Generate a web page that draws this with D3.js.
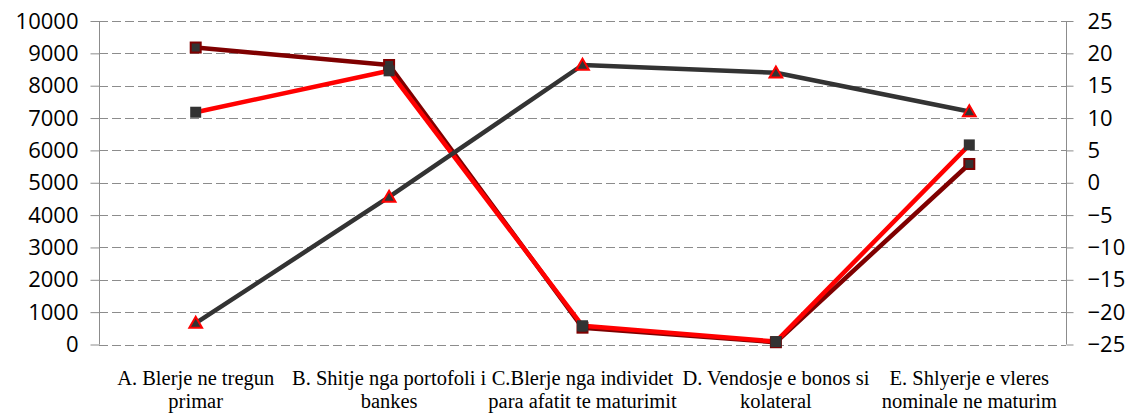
<!DOCTYPE html>
<html><head><meta charset="utf-8">
<script src="https://cdn.jsdelivr.net/npm/d3@7"></script>
<style>body{margin:0;background:#fff}svg{display:block}</style>
</head><body><svg id="c" width="1125" height="414"></svg>
<script>
const categories = ["A. Blerje ne tregun primar","B. Shitje nga portofoli i bankes","C.Blerje nga individet para afatit te maturimit","D. Vendosje e bonos si kolateral","E. Shlyerje e vleres nominale ne maturim"];
const categoryLines = [["A. Blerje ne tregun","primar"],["B. Shitje nga portofoli i","bankes"],["C.Blerje nga individet","para afatit te maturimit"],["D. Vendosje e bonos si","kolateral"],["E. Shlyerje e vleres","nominale ne maturim"]];
const seriesDarkRed = [9180, 8640, 520, 70, 5580];
const seriesRed = [7180, 8460, 580, 90, 6170];
const seriesGray = [-21.7, -2.2, 18.2, 17.0, 11.0];
const leftTicks = [0,1000,2000,3000,4000,5000,6000,7000,8000,9000,10000];
const rightTicks = [-25,-20,-15,-10,-5,0,5,10,15,20,25];

const svg = d3.select("#c");
const L = 99, R = 1066, T = 21, B = 344.5;
const x = d3.scaleBand().domain(categories).range([L, R]);
const yL = d3.scaleLinear().domain([0, 10000]).range([B, T]);
const yR = d3.scaleLinear().domain([-25, 25]).range([B, T]);
const cx = d => x(d) + x.bandwidth()/2;

// gridlines
svg.append("g").selectAll("line").data(leftTicks).join("line")
  .attr("x1", L).attr("x2", R).attr("y1", d => Math.round(yL(d))+0.5).attr("y2", d => Math.round(yL(d))+0.5)
  .attr("stroke", "#8c8c8c").attr("stroke-width", 1).attr("stroke-dasharray", "9,4");

// left axis
const axL = svg.append("g").attr("transform", `translate(${L+0.5},0)`)
  .call(d3.axisLeft(yL).tickValues(leftTicks).tickSize(9).tickPadding(12).tickFormat(d3.format("d")));
axL.attr("font-family", "Open Sans").attr("font-size", 22);
axL.select(".domain").attr("stroke", "#8c8c8c").attr("d", `M0,${T}V${B}`);
axL.selectAll(".tick line").attr("stroke", "#8c8c8c");
axL.selectAll(".tick text").attr("font-family", "Open Sans").style("font-family", "Open Sans", "important").attr("fill", "#000");

// right axis
const axR = svg.append("g").attr("transform", `translate(${R+0.5},0)`)
  .call(d3.axisRight(yR).tickValues(rightTicks).tickSize(7).tickPadding(14));
axR.attr("font-family", "Open Sans").attr("font-size", 22);
axR.select(".domain").attr("stroke", "#8c8c8c").attr("d", `M0,${T}V${B}`);
axR.selectAll(".tick line").attr("stroke", "#8c8c8c");
axR.selectAll(".tick text").attr("font-family", "Open Sans").style("font-family", "Open Sans", "important").attr("fill", "#000");

// category labels
const catG = svg.append("g").attr("font-family", "Liberation Serif").attr("font-size", 20.5);
const lab = catG.selectAll("text").data(categories).join("text")
  .attr("x", d => cx(d)).attr("y", 385).attr("text-anchor", "middle")
  .attr("font-family", "Liberation Serif")
  .style("font-family", "Liberation Serif", "important").attr("fill", "#000");
lab.each(function(d, i) {
  d3.select(this).selectAll("tspan").data(categoryLines[i]).join("tspan")
    .attr("x", cx(d)).attr("dy", (t, j) => j === 0 ? 0 : 23)
    .style("font-family", "Liberation Serif", "important").text(t => t);
});

const lineL = d3.line().x((d, i) => cx(categories[i])).y(d => yL(d));
const lineR = d3.line().x((d, i) => cx(categories[i])).y(d => yR(d));

svg.append("path").datum(seriesDarkRed).attr("d", lineL).attr("fill", "none")
  .attr("stroke", "#7f0000").attr("stroke-width", 4.5).attr("stroke-linejoin", "round");
svg.append("path").datum(seriesRed).attr("d", lineL).attr("fill", "none")
  .attr("stroke", "#ff0000").attr("stroke-width", 4.5).attr("stroke-linejoin", "round");
svg.append("path").datum(seriesGray).attr("d", lineR).attr("fill", "none")
  .attr("stroke", "#333333").attr("stroke-width", 4.5).attr("stroke-linejoin", "round");

const sq = 11;
svg.append("g").selectAll("rect").data(seriesDarkRed).join("rect")
  .attr("x", (d, i) => cx(categories[i]) - 5).attr("y", d => yL(d) - 5)
  .attr("width", 10).attr("height", 10).attr("fill", "#333").attr("stroke", "#7f0000").attr("stroke-width", 2);
svg.append("g").selectAll("rect").data(seriesRed).join("rect")
  .attr("x", (d, i) => cx(categories[i]) - sq/2).attr("y", d => yL(d) - sq/2)
  .attr("width", sq).attr("height", sq).attr("fill", "#333");
const tri = d3.symbol().type(d3.symbolTriangle).size(70);
svg.append("g").selectAll("path").data(seriesGray).join("path")
  .attr("transform", (d, i) => `translate(${cx(categories[i])},${yR(d)+1})`)
  .attr("d", tri).attr("fill", "#333").attr("stroke", "#ff0000").attr("stroke-width", 2);
</script></body></html>
